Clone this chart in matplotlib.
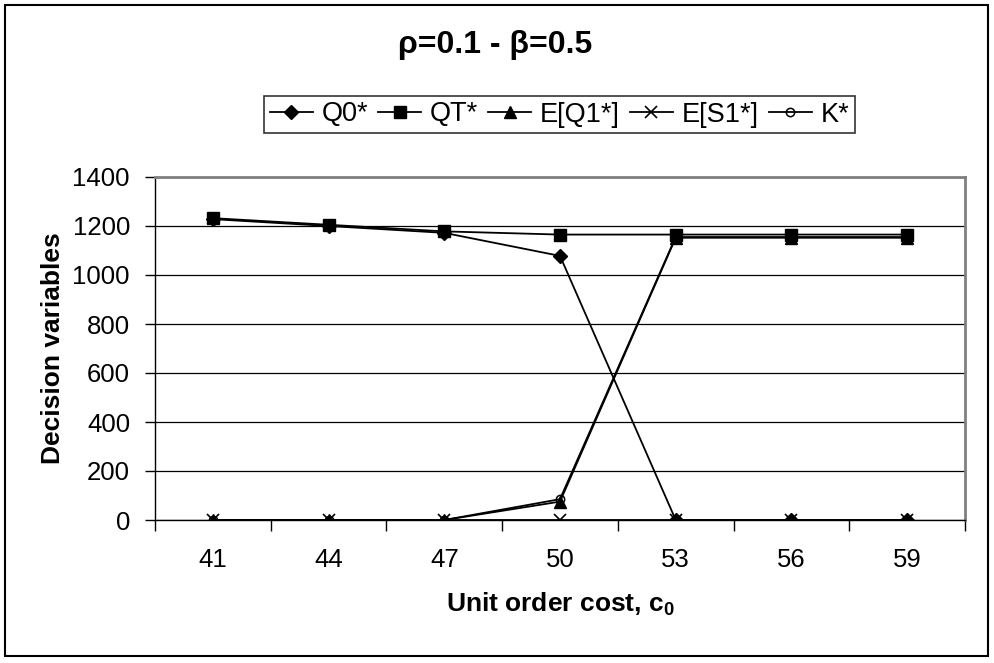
import matplotlib.pyplot as plt
from matplotlib.patches import Rectangle

plt.rcParams['font.family'] = ['Liberation Sans', 'DejaVu Sans']
plt.rcParams['mathtext.fontset'] = 'custom'
plt.rcParams['mathtext.rm'] = 'Liberation Sans'
plt.rcParams['mathtext.bf'] = 'Liberation Sans:bold'

costs = ['41', '44', '47', '50', '53', '56', '59']
q0 = [1228, 1200, 1172, 1078, 0, 0, 0]
qt = [1232, 1205, 1178, 1165, 1165, 1165, 1165]
eq1 = [0, 0, 0, 75, 1152, 1152, 1152]
es1 = [0, 0, 0, 0, 0, 0, 0]
k = [0, 0, 0, 85, 1155, 1155, 1155]

W, H = 994, 663
fig = plt.figure(figsize=(W / 100, H / 100), dpi=100)
# plot area in pixels: left 155, right 965, top 177, bottom 520
ax = fig.add_axes([155 / W, 1 - 520 / H, (965 - 155) / W, (520 - 177) / H])

x = range(len(costs))
lw = 1.3
ax.plot(x, q0, color='black', lw=lw, marker='D', ms=7, label='Q0*')
ax.plot(x, qt, color='black', lw=lw, marker='s', ms=8, label='QT*')
ax.plot(x, eq1, color='black', lw=lw, marker='^', ms=9, label='E[Q1*]')
ax.plot(x, es1, color='black', lw=lw, marker='x', ms=8, mew=1.2, label='E[S1*]')
ax.plot(x, k, color='black', lw=lw, marker='o', ms=6, mfc='none', mew=1.1, label='K*')

ax.set_xlim(-0.5, len(costs) - 0.5)
ax.set_ylim(0, 1400)
ax.set_yticks(range(0, 1401, 200))
ax.set_xticks(x)
ax.set_xticklabels(costs)
ax.set_xticks([i - 0.5 for i in range(len(costs) + 1)], minor=True)
ax.tick_params(axis='x', which='major', length=0, labelsize=18.5, pad=20)
ax.tick_params(axis='x', which='minor', length=8, width=1, direction='out')
ax.tick_params(axis='y', length=7, width=1, direction='out', labelsize=18.5, pad=11)

ax.grid(axis='y', color='black', lw=0.9)
ax.set_axisbelow(True)
for s in ['top', 'right']:
    ax.spines[s].set_color('#808080')
    ax.spines[s].set_linewidth(2)
for s in ['left', 'bottom']:
    ax.spines[s].set_color('black')
    ax.spines[s].set_linewidth(1)

ax.set_xlabel('Unit order cost, c$_\\mathbf{0}$', fontsize=19, fontweight='bold', va='center')
ax.set_ylabel('Decision variables', fontsize=19, fontweight='bold', va='center')
ax.xaxis.set_label_coords(560 / W, 1 - 604 / H, transform=fig.transFigure)
ax.yaxis.set_label_coords(53 / W, 1 - 348 / H, transform=fig.transFigure)

fig.text(495 / W, 1 - 45 / H, 'ρ=0.1 - β=0.5', fontsize=23, fontweight='bold',
         ha='center', va='center')

leg = fig.legend(loc='center', bbox_to_anchor=(559.5 / W, 1 - 114.5 / H), ncol=5,
                 fontsize=19.5, frameon=True, fancybox=False, edgecolor='black',
                 handlelength=1.6, handletextpad=0.32, columnspacing=0.36,
                 borderpad=0.2, borderaxespad=0)
leg.get_frame().set_linewidth(1.2)

fig.patches.append(Rectangle((5 / W, 1 - 656 / H), (988 - 5) / W, (656 - 5) / H,
                             transform=fig.transFigure, fill=False,
                             edgecolor='black', lw=1.5))

fig.savefig('out.png', dpi=100)
